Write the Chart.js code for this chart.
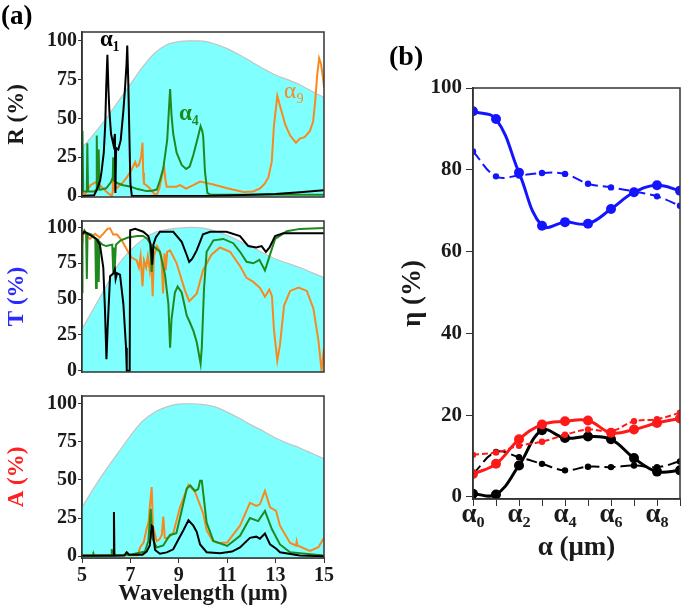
<!DOCTYPE html>
<html><head><meta charset="utf-8">
<script src="https://cdn.jsdelivr.net/npm/chart.js@4.4.1/dist/chart.umd.min.js"></script>
<style>
html,body{margin:0;padding:0;background:#fff}
#wrap{position:relative;width:685px;height:609px;overflow:hidden;background:#fff}
canvas{position:absolute}
.t{position:absolute;font-family:'Liberation Serif',serif;font-weight:bold;white-space:nowrap;line-height:1}
</style></head><body>
<div id="wrap">
<canvas id="cR" width="340" height="210" style="left:0;top:0"></canvas>
<canvas id="cT" width="340" height="177" style="left:0;top:208px"></canvas>
<canvas id="cA" width="340" height="226" style="left:0;top:383px"></canvas>
<canvas id="cB" width="305" height="579" style="left:380px;top:30px"></canvas>
<div class="t" style="left:1px;top:2px;font-size:27px">(a)</div>
<div class="t" style="left:389px;top:42px;font-size:28px">(b)</div>
<div class="t" style="left:100px;top:27px;font-size:23px;color:#000">α₁</div>
<div class="t" style="left:179px;top:101px;font-size:23px;color:#1e8a1e">α₄</div>
<div class="t" style="left:284px;top:79px;font-size:23px;color:#f7891e;font-weight:normal">α₉</div>
</div>
<script>
// ---------- DATA ----------
const bbWl = [5,5.5,6,6.5,7,7.5,8,8.5,9,9.5,10,10.5,11,11.5,12,12.5,13,13.5,14,14.5,15];
const bbR  = [31,40,50,61,72,83,92,97.5,99.5,100,99.8,98,95,91,86.5,82,78,75,71.7,67.5,63.5];
const bbT  = [29,44,59,74,84,91.5,96.5,98.5,99.5,100,99.5,97.5,94.5,90.5,86.5,82,78,75,72,68.5,65];
const bbA  = [32,45,57,68,79,88.5,94.5,98,99.8,100,99.5,98,94.5,90.5,86,82,77.5,74,71,67.5,64];

const R_a1 = [[5,0],[5.5,0.5],[5.61,4],[5.75,10],[5.81,16],[5.9,28],[5.96,46],[6.0,70],[6.05,91],[6.09,70],[6.13,55],[6.2,40],[6.3,33],[6.36,40],[6.38,2],[6.41,31],[6.5,30],[6.6,36],[6.71,55],[6.78,70],[6.84,85],[6.87,97],[6.91,75],[6.95,45],[7.0,8],[7.06,0],[8,0],[10,0],[11,0.3],[12,0.8],[13,1.3],[14,2.5],[15,3.8]];
const R_a4 = [[5,3],[5.02,42],[5.05,3],[5.2,3],[5.22,34],[5.25,3],[5.5,3],[5.58,4],[5.61,39],[5.64,5],[5.67,5],[5.69,30],[5.72,4],[6.0,5],[6.2,9],[6.27,12],[6.29,25],[6.32,10],[6.45,8.4],[6.7,7],[6.98,6.2],[7.3,4.5],[7.67,3.2],[7.9,3.5],[8.09,4.2],[8.22,10],[8.36,18],[8.52,36],[8.6,58],[8.64,69],[8.7,52],[8.77,40],[8.91,28],[9.12,20],[9.3,17.5],[9.45,19],[9.6,26.5],[9.8,38.5],[9.9,45],[9.97,42],[10.01,38],[10.08,16],[10.18,2],[10.3,1],[15,0.8]];
const R_a9 = [[5,8.4],[5.05,2],[5.1,0],[5.2,3],[5.35,7],[5.6,9.2],[5.8,6],[6.0,3],[6.23,0],[6.27,3],[6.3,22],[6.33,4],[6.5,6],[6.7,9],[6.85,12],[7.05,17],[7.2,22],[7.26,19],[7.35,20],[7.45,26],[7.5,34.4],[7.53,15],[7.56,8],[7.74,6],[7.95,2],[8.08,0.5],[8.2,5],[8.29,12],[8.39,19.3],[8.45,10],[8.5,6],[8.9,6],[9.05,7],[9.3,4.8],[9.6,7],[9.88,9.3],[10.43,7.5],[11.0,5],[11.67,2.6],[12.08,3],[12.36,5],[12.55,8],[12.7,12],[12.84,22],[12.93,45],[13.07,64.6],[13.2,57],[13.4,46],[13.6,39],[13.84,34.4],[14.0,37],[14.2,38],[14.42,42],[14.55,48],[14.63,60],[14.72,78],[14.8,88.8],[14.88,85],[14.97,74.7],[15,70]];

const T_a1 = [[5,95],[5.1,97],[5.3,95],[5.6,92],[5.74,88],[5.88,72],[5.95,42],[6.01,8],[6.06,30],[6.16,66],[6.3,68],[6.36,71],[6.39,64],[6.45,68],[6.57,67],[6.71,46.5],[6.82,16],[6.85,0],[6.97,0],[6.99,98],[7.2,99],[7.53,97],[7.74,94],[7.84,88],[7.9,74],[7.95,88],[8.05,93],[8.22,97],[8.77,97],[9.12,90],[9.3,82],[9.43,76],[9.55,78],[9.74,84],[10.0,95.3],[10.3,97],[10.97,97],[11.53,94],[11.87,87],[12.2,86],[12.42,87],[12.6,83],[12.75,86],[12.98,94],[13.32,96],[15,96]];
const T_a4 = [[5,55],[5.02,95],[5.1,98],[5.17,96],[5.2,64],[5.23,96],[5.4,95],[5.55,92],[5.58,57.7],[5.61,90],[5.67,91],[5.69,62],[5.72,90],[5.85,88],[6.0,87],[6.25,88],[6.29,69],[6.32,86],[6.36,74],[6.4,88],[6.6,91],[6.9,93],[7.3,94],[7.53,94],[7.7,92],[7.81,89],[7.88,69],[7.95,87],[8.22,83],[8.43,67],[8.57,46.5],[8.64,16],[8.7,36],[8.84,54.6],[8.95,58.7],[9.12,54.6],[9.33,38.4],[9.45,34],[9.6,28],[9.74,20],[9.9,4.9],[9.95,16],[10.04,56.7],[10.15,83],[10.43,91],[10.84,92],[11.25,89],[11.53,83],[11.8,76],[12.08,75],[12.33,77.4],[12.56,70],[12.77,81],[12.98,92],[13.46,97.3],[14.0,99],[15,99.6]];
const T_a9 = [[5,90],[5.03,97.5],[5.1,96],[5.2,94],[5.33,92],[5.45,94],[5.54,95.5],[5.74,93],[5.9,96],[6.05,99],[6.16,99.4],[6.29,95],[6.45,95],[6.64,91],[6.84,85],[7.05,79],[7.26,77],[7.35,72],[7.42,80],[7.5,59],[7.56,77],[7.65,72],[7.72,80],[7.8,70],[7.86,80],[7.92,52],[7.97,80],[8.1,87],[8.2,84],[8.28,80],[8.35,54],[8.41,82],[8.46,70],[8.52,83],[8.64,84],[8.91,75],[9.26,55.7],[9.43,48.5],[9.74,53.7],[10.0,70],[10.35,81],[10.7,86],[11.12,83],[11.53,73],[11.8,64.8],[12.08,62],[12.36,57.7],[12.56,51.6],[12.74,56.7],[12.85,52],[12.93,29],[13.07,7],[13.18,18],[13.35,45.5],[13.6,55.7],[13.95,58],[14.29,55.7],[14.56,43.5],[14.77,21],[14.9,0],[15,16]];

const A_a1 = [[5,0.3],[6.3,0.3],[6.32,29],[6.34,0.3],[6.75,0.5],[6.85,2.6],[6.95,1],[7.5,1],[7.67,3],[7.8,7],[7.88,20],[7.92,19.5],[7.97,10],[8.02,4],[8.22,1.6],[8.5,2.5],[8.77,4.5],[8.95,10],[9.19,17],[9.4,23.5],[9.6,20],[9.74,16],[9.88,7.7],[10.15,2.6],[10.7,2],[11.2,3],[11.53,5.7],[11.94,12],[12.2,12.8],[12.35,11.5],[12.56,14.9],[12.77,7.7],[13.04,4.7],[13.18,2.6],[14.0,0.5],[15,0]];
const A_a4 = [[5,0.5],[5.45,0.5],[5.47,1.8],[5.5,0.5],[6.2,0.8],[6.23,4.7],[6.26,0.8],[7.0,1],[7.6,3],[7.74,10],[7.84,31],[7.9,12],[8.08,5.7],[8.36,7],[8.55,12],[8.64,13.9],[8.9,15],[9.12,30],[9.33,44.4],[9.47,46.4],[9.67,42.8],[9.8,44],[9.88,49.5],[9.95,49.5],[10.02,40],[10.15,22],[10.43,10],[11.0,6.7],[11.53,13.4],[11.94,25],[12.28,23],[12.56,29.7],[12.84,18],[13.18,7.7],[13.6,2.6],[14.0,2],[15,0.5]];
const A_a9 = [[5,0.6],[7.3,0.6],[7.4,5.7],[7.55,9],[7.67,18],[7.75,22],[7.8,32],[7.88,45.4],[7.93,20],[8.08,9.8],[8.2,11],[8.3,14],[8.36,26],[8.42,12],[8.55,12],[8.77,15],[9.05,32],[9.4,46.8],[9.67,42.3],[10.01,28],[10.15,17],[10.4,10],[10.63,8.7],[11.0,9],[11.53,20],[11.94,35],[12.2,33],[12.35,34],[12.56,42.8],[12.77,32],[13.02,29.7],[13.18,20],[13.6,8.7],[13.84,7],[13.87,9.5],[13.9,7],[14.42,3.5],[14.77,5.9],[15,12]];

const aTicksY = [0,25,50,75,100];
const aTicksX = [5,7,9,11,13,15];

const alphaX = [0,1,2,3,4,5,6,7,8,9];
const bTickLabels = ['α₀','','α₂','','α₄','','α₆','','α₈',''];
const bTicksY = [0,20,40,60,80,100];
const blueSolid  = [94.3,92.4,79.3,66.3,67.2,66.8,70.4,74.5,76.2,74.9];
const blueDash   = [84.5,78.4,78.6,79.2,79.0,76.6,75.7,74.7,73.5,71.2];
const redSolid   = [5.6,8.1,14.1,17.7,18.5,18.7,15.7,16.5,18.1,19.2];
const redDash    = [10.3,10.9,12.5,13.5,15.2,16.5,16.1,18.5,19.0,20.6];
const blackSolid = [0.8,0.6,7.7,16.3,14.4,14.8,14.1,9.5,6.2,6.5];
const blackDash  = [5.6,11.0,9.7,8.1,6.5,7.4,7.3,7.7,7.3,8.7];

// ---------- STYLE ----------
const COL = {black:'#000000', green:'#1e8a1e', orange:'#f7891e', cyan:'#80ffff', edge:'#c4c4c4',
             blue:'#1414ff', red:'#ff1a1a', axis:'#333333', text:'#1a1a1a'};
Chart.defaults.font.family = "'Liberation Serif', serif";
Chart.defaults.font.weight = 'bold';
Chart.defaults.color = COL.text;

const frame = {id:'frame', afterDatasetsDraw(c){const a=c.chartArea, x=c.ctx; x.save(); x.strokeStyle=COL.axis; x.lineWidth=1.5;
  x.strokeRect(a.left, a.top, a.right-a.left, a.bottom-a.top); x.restore();}};

function pts(arr){return arr.map(p=>({x:p[0], y:p[1]}));}
function bbPts(vals){return bbWl.map((w,i)=>({x:w, y:vals[i]}));}
function line(data,color,order){return {data:pts(data), borderColor:color, borderWidth:2, pointRadius:0, fill:false, tension:0, order};}

function spec(id, pad, bb, s1, s4, s9, yMin, yMax, title, tColor, showX){
  return new Chart(document.getElementById(id), {
    type:'line',
    data:{datasets:[
      line(s1, COL.black, 1), line(s4, COL.green, 2), line(s9, COL.orange, 3),
      {data:bbPts(bb), borderColor:COL.edge, borderWidth:1.2, backgroundColor:COL.cyan, fill:'start', pointRadius:0, tension:0.3, order:10}
    ]},
    options:{responsive:false, animation:false, events:[],
      layout:{padding:{left:0, right:16, top:pad[0], bottom:pad[1]}},
      plugins:{legend:{display:false}, tooltip:{enabled:false}},
      scales:{
        x:{type:'linear', min:5, max:15, display:showX,
           afterBuildTicks:s=>{s.ticks=aTicksX.map(v=>({value:v}));},
           afterFit:s=>{s.height = showX ? 51 : 0;},
           grid:{drawOnChartArea:false, tickLength:5, color:COL.axis}, border:{color:COL.axis, width:1.5},
           ticks:{padding:1, color:COL.text, font:{size:20, weight:'bold'}, maxRotation:0, autoSkip:false},
           title:{display:true, text:'Wavelength (μm)', color:COL.text, font:{size:23, weight:'bold', lineHeight:1.2}, padding:{top:0, bottom:1}}},
        y:{min:yMin, max:yMax,
           afterBuildTicks:s=>{s.ticks=aTicksY.map(v=>({value:v}));},
           afterFit:s=>{s.width=82;},
           grid:{drawOnChartArea:false, tickLength:4, color:COL.axis}, border:{color:COL.axis, width:1.5},
           ticks:{padding:1, color:COL.text, font:{size:20, weight:'bold'}},
           title:{display:true, text:title, color:tColor, font:{size:23, weight:'bold', lineHeight:1.2}, padding:{top:3, bottom:0}}}
      }},
    plugins:[frame]
  });
}

spec('cR', [32,2], bbR, R_a1, R_a4, R_a9, -0.6, 105.7, 'R (%)', COL.text, false);
spec('cT', [2,2], bbT, T_a1, T_a4, T_a9, -0.9, 104.5, 'T (%)', '#2a2aff', false);
spec('cA', [2,0], bbA, A_a1, A_a4, A_a9, -1.2, 105.1, 'A (%)', '#ff2020', true);

function ser(vals, color, dashed){
  return {data:alphaX.map((x,i)=>({x, y:vals[i]})), borderColor:color, backgroundColor:color,
    borderWidth: dashed?2:3, borderDash: dashed?[11,5]:[], pointRadius: dashed?3.2:5, pointBorderWidth:0,
    tension:0.4, fill:false};
}
const dsB = [ser(blueDash, COL.blue, true), ser(blueSolid, COL.blue, false),
  ser(redDash, COL.red, true), ser(redSolid, COL.red, false),
  ser(blackDash, COL.black, true), ser(blackSolid, COL.black, false)];
dsB[2].borderDash = [6,3];

new Chart(document.getElementById('cB'), {
  type:'line',
  data:{datasets:dsB},
  options:{responsive:false, animation:false, events:[],
    layout:{padding:{left:0, right:4, top:58, bottom:0}},
    plugins:{legend:{display:false}, tooltip:{enabled:false}},
    scales:{
      x:{type:'linear', min:0, max:9,
         afterBuildTicks:s=>{s.ticks=alphaX.map(v=>({value:v}));},
         afterFit:s=>{s.height=110;},
         grid:{drawOnChartArea:false, tickLength:7, color:COL.axis}, border:{color:COL.axis, width:1.5},
         ticks:{padding:-4, color:COL.text, maxRotation:0, autoSkip:false, font:{size:27, weight:'bold', lineHeight:1},
                callback:(v,i)=>bTickLabels[i]},
         title:{display:true, text:'α (μm)', color:COL.text, font:{size:27, weight:'bold', lineHeight:1.2}, padding:{top:0, bottom:45}}},
      y:{min:-0.5, max:100,
         afterBuildTicks:s=>{s.ticks=bTicksY.map(v=>({value:v}));},
         afterFit:s=>{s.width=93;},
         grid:{drawOnChartArea:false, tickLength:7, color:COL.axis}, border:{color:COL.axis, width:1.5},
         ticks:{padding:4, color:COL.text, font:{size:21, weight:'bold'}},
         title:{display:true, text:'η (%)', color:COL.text, font:{size:27, weight:'bold', lineHeight:1.2}, padding:{top:17, bottom:0}}}
    }},
  plugins:[frame]
});
</script>
</body></html>
